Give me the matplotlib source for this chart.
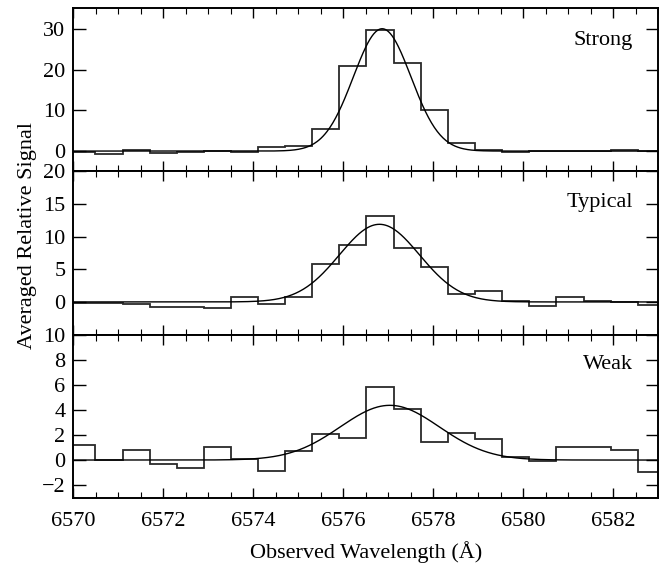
import numpy as np
import matplotlib
matplotlib.use("Agg")
import matplotlib.pyplot as plt

plt.rcParams['font.family'] = ['Liberation Serif', 'DejaVu Serif']

# bin centres (Angstrom), shared by all three spectra
wave = [6570.19, 6570.79, 6571.40, 6572.00, 6572.60, 6573.21, 6573.81, 6574.41,
        6575.01, 6575.62, 6576.22, 6576.82, 6577.43, 6578.03, 6578.63, 6579.24,
        6579.84, 6580.44, 6581.04, 6581.65, 6582.25, 6582.85]

strong = [-0.15, -0.6, 0.25, -0.4, -0.25, 0.1, -0.3, 0.9, 1.3, 5.3, 20.8, 29.7,
          21.6, 10.0, 2.0, 0.25, -0.3, 0.0, 0.1, 0.1, 0.3, 0.0]
typical = [-0.1, -0.2, -0.35, -0.75, -0.7, -1.0, 0.75, -0.25, 0.75, 5.8, 8.7, 13.1,
           8.3, 5.4, 1.2, 1.7, 0.15, -0.6, 0.8, 0.15, 0.0, -0.45]
weak = [1.2, 0.0, 0.8, -0.35, -0.65, 1.0, 0.05, -0.9, 0.72, 2.1, 1.73, 5.8,
        4.07, 1.4, 2.18, 1.65, 0.24, -0.1, 1.04, 1.0, 0.8, -0.98]

# gaussian fits: amplitude, centre, sigma
fit_strong = (30.0, 6576.87, 0.64)
fit_typical = (11.9, 6576.81, 0.89)
fit_weak = (4.36, 6577.04, 1.10)

labels = ['Strong', 'Typical', 'Weak']
ylims = [(-5, 35), (-5, 20), (-3, 10)]
yticks = [[0, 10, 20, 30], [0, 5, 10, 15, 20], [-2, 0, 2, 4, 6, 8, 10]]
label_y = [27.1, 15.3, 7.6]

wave = np.array(wave)
half = (wave[1] - wave[0]) / 2
edges = np.append(wave - half, wave[-1] + half)
xfit = np.linspace(6570, 6583, 600)

fig = plt.figure(figsize=(6.59, 5.64), dpi=100)
left, width = 0.1108, 0.8877
h = 0.2892
bottoms = [0.1176 + 2 * h, 0.1176 + h, 0.1176]

for i, (vals, fit) in enumerate(zip([strong, typical, weak],
                                     [fit_strong, fit_typical, fit_weak])):
    ax = fig.add_axes([left, bottoms[i], width, h])
    ax.stairs(vals, edges, color='#2a2a2a', linewidth=1.3, baseline=None)
    a, c, s = fit
    ax.plot(xfit, a * np.exp(-(xfit - c) ** 2 / (2 * s ** 2)), color='black', linewidth=1.0)
    ax.set_xlim(6570, 6583)
    ax.set_ylim(*ylims[i])
    ax.set_yticks(yticks[i])
    ax.set_xticks(np.arange(6570, 6583, 2))
    ax.set_xticks(np.arange(6570, 6583.1, 0.5), minor=True)
    ax.tick_params(which='both', direction='in', top=True, right=True, labelsize=16)
    ax.tick_params(axis='y', which='major', length=9, width=1.0, pad=5.5)
    ax.tick_params(axis='x', which='major', length=7, width=1.0, pad=10.5)
    ax.tick_params(axis='x', which='minor', length=4, width=0.8)
    for sp in ax.spines.values():
        sp.set_linewidth(1.4)
    if i < 2:
        ax.tick_params(labelbottom=False)
    ax.text(6582.44, label_y[i], labels[i], ha='right', va='center', fontsize=16)

fig.text(0.041, 0.583, 'Averaged Relative Signal', rotation=90, ha='center', va='center', fontsize=16)
fig.text(0.556, 0.022, 'Observed Wavelength (Å)', ha='center', va='center', fontsize=16)

fig.savefig('out.png', dpi=100)
